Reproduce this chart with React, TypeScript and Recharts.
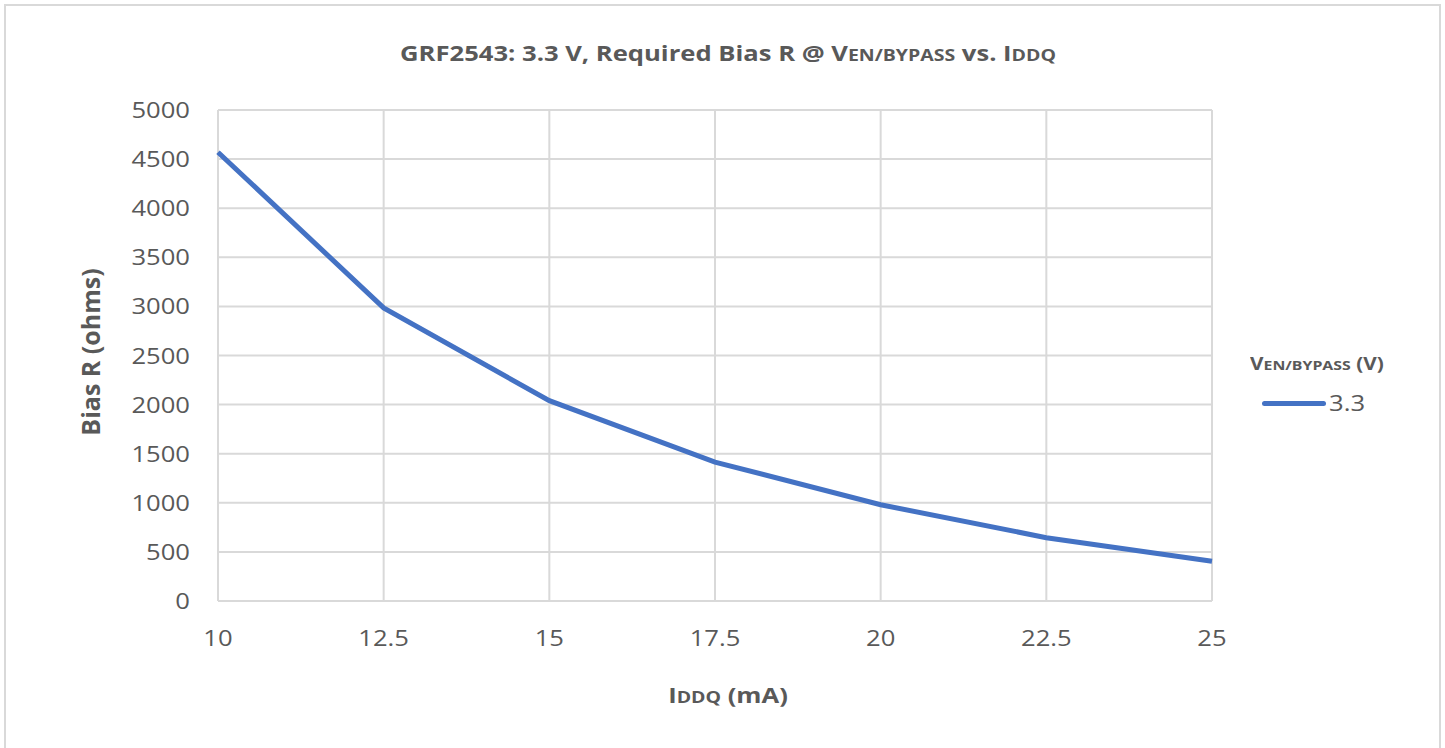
import React from "react";
import { CartesianGrid, Label, Line, LineChart, XAxis, YAxis } from "recharts";

const iddq = [10, 12.5, 15, 17.5, 20, 22.5, 25];
const biasR = [4570, 2985, 2040, 1415, 980, 645, 405];
const xTicks = [10, 12.5, 15, 17.5, 20, 22.5, 25];
const yTicks = [0, 500, 1000, 1500, 2000, 2500, 3000, 3500, 4000, 4500, 5000];
const seriesName = "3.3";

const data = iddq.map((x, i) => ({ x, r: biasR[i] }));

const FONT = "'Open Sans', 'Noto Sans', sans-serif";
const GRID = "#d9d9d9";
const TEXT = "#595959";
const BLUE = "#4472C4";
const SX = 1.22;

function YTick(props: any) {
  const { x, y, payload } = props;
  return (
    <text
      transform={`translate(${x},${y}) scale(${SX},1)`}
      textAnchor="end"
      dominantBaseline="central"
      fontFamily={FONT}
      fontSize={21}
      fill={TEXT}
    >
      {payload.value}
    </text>
  );
}

function XTick(props: any) {
  const { x, y, payload } = props;
  return (
    <text
      transform={`translate(${x},${y}) scale(${SX},1)`}
      textAnchor="middle"
      dominantBaseline="central"
      fontFamily={FONT}
      fontSize={21}
      fill={TEXT}
    >
      {payload.value}
    </text>
  );
}

function LegendBox() {
  return (
    <div style={{ fontFamily: FONT, color: TEXT }}>
      <div
        style={{
          fontWeight: 700,
          fontSize: 17,
          transform: `scaleX(${SX})`,
          transformOrigin: "left center",
          whiteSpace: "nowrap",
        }}
      >
        V<span style={{ fontSize: 13 }}>EN/BYPASS</span> (V)
      </div>
      <div style={{ display: "flex", alignItems: "center", marginTop: 14, marginLeft: 12 }}>
        <div style={{ width: 64, height: 5, borderRadius: 3, background: BLUE }} />
        <span
          style={{
            fontSize: 21,
            marginLeft: 3,
            transform: `scaleX(${SX})`,
            transformOrigin: "left center",
            display: "inline-block",
          }}
        >
          {seriesName}
        </span>
      </div>
    </div>
  );
}

export default function App() {
  return (
    <div style={{ position: "relative", width: 1445, height: 748, overflow: "hidden", background: "#fff" }}>
      <style>{`body{margin:0}`}</style>
      <div
        style={{
          position: "absolute",
          left: 4,
          top: 4,
          width: 1433,
          height: 800,
          border: `2px solid ${GRID}`,
        }}
      />
      <svg width={1445} height={80} style={{ position: "absolute", left: 0, top: 0 }}>
        <text
          transform={`translate(728,61) scale(${SX},1)`}
          textAnchor="middle"
          fontFamily={FONT}
          fontWeight={700}
          fontSize={21}
          fill={TEXT}
        >
          GRF2543: 3.3 V, Required Bias R @ V
          <tspan fontSize={16}>EN/BYPASS</tspan> vs. I<tspan fontSize={16}>DDQ</tspan>
        </text>
      </svg>
      <div style={{ position: "absolute", left: 0, top: 0 }}>
        <LineChart
          width={1445}
          height={748}
          data={data}
          margin={{ top: 110, right: 233, bottom: 87, left: 98 }}
        >
          <CartesianGrid stroke={GRID} strokeWidth={2} />
          <XAxis
            dataKey="x"
            type="number"
            domain={[10, 25]}
            ticks={xTicks}
            height={60}
            tickLine={false}
            axisLine={{ stroke: GRID, strokeWidth: 2 }}
            tickSize={0}
            tickMargin={37}
            tick={<XTick />}
            interval={0}
          >
            <Label
              position="insideBottom"
              content={() => (
                <text
                  transform={`translate(728,703) scale(${SX},1)`}
                  textAnchor="middle"
                  fontFamily={FONT}
                  fontWeight={700}
                  fontSize={21}
                  fill={TEXT}
                >
                  I<tspan fontSize={16}>DDQ</tspan> (mA)
                </text>
              )}
            />
          </XAxis>
          <YAxis
            type="number"
            domain={[0, 5000]}
            ticks={yTicks}
            width={120}
            tickLine={false}
            axisLine={false}
            tickSize={0}
            tickMargin={28}
            tick={<YTick />}
            interval={0}
          >
            <Label
              position="insideLeft"
              content={() => (
                <text
                  transform="translate(100,352) rotate(-90)"
                  textAnchor="middle"
                  fontFamily={FONT}
                  fontWeight={700}
                  fontSize={25}
                  fill={TEXT}
                >
                  Bias R (ohms)
                </text>
              )}
            />
          </YAxis>
          <Line
            dataKey="r"
            name={seriesName}
            stroke={BLUE}
            strokeWidth={5}
            dot={false}
            isAnimationActive={false}
          />
        </LineChart>
      </div>
      <div style={{ position: "absolute", left: 1250, top: 352, width: 190 }}>
        <LegendBox />
      </div>
    </div>
  );
}
